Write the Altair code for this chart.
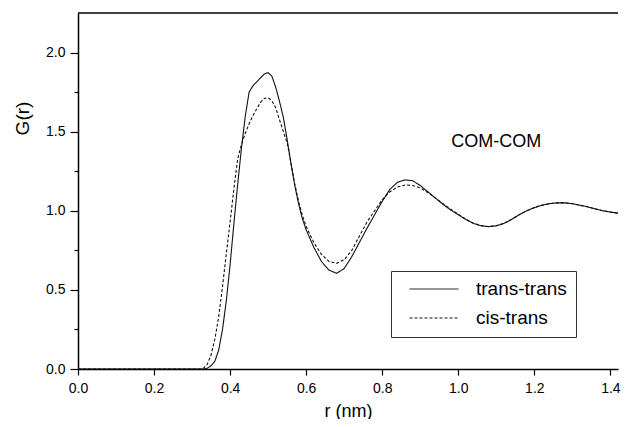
import altair as alt
import pandas as pd

FONT = "Liberation Sans"

# ---- data ----
r_trans = [0.00, 0.33, 0.34, 0.35, 0.36, 0.37, 0.38, 0.39, 0.40, 0.41, 0.42, 0.43, 0.44, 0.45,
           0.46, 0.47, 0.48, 0.49, 0.50, 0.51, 0.52, 0.53, 0.54, 0.55, 0.56, 0.57, 0.58, 0.59,
           0.60, 0.62, 0.64, 0.66, 0.68, 0.70, 0.72, 0.74, 0.76, 0.78, 0.80, 0.82, 0.84, 0.86,
           0.88, 0.90, 0.92, 0.94, 0.96, 0.98, 1.00, 1.02, 1.04, 1.06, 1.08, 1.10, 1.12, 1.14,
           1.16, 1.18, 1.20, 1.22, 1.24, 1.26, 1.28, 1.30, 1.32, 1.34, 1.36, 1.38, 1.40, 1.42, 1.44]
g_trans = [0.0, 0.0, 0.005, 0.02, 0.05, 0.12, 0.25, 0.43, 0.66, 0.92, 1.17, 1.40, 1.60, 1.75,
           1.79, 1.815, 1.84, 1.865, 1.873, 1.85, 1.78, 1.69, 1.59, 1.45, 1.30, 1.16, 1.045, 0.95,
           0.88, 0.77, 0.68, 0.625, 0.605, 0.635, 0.71, 0.80, 0.89, 0.975, 1.06, 1.135, 1.18, 1.195,
           1.19, 1.16, 1.12, 1.08, 1.04, 1.005, 0.975, 0.945, 0.92, 0.905, 0.90, 0.905, 0.92, 0.945,
           0.975, 1.0, 1.02, 1.035, 1.045, 1.05, 1.05, 1.045, 1.035, 1.025, 1.012, 1.0, 0.992, 0.985, 0.978]

r_cis = [0.00, 0.32, 0.33, 0.34, 0.35, 0.36, 0.37, 0.38, 0.39, 0.40, 0.41, 0.42, 0.43, 0.44, 0.45,
         0.46, 0.47, 0.48, 0.49, 0.50, 0.51, 0.52, 0.53, 0.54, 0.55, 0.56, 0.57, 0.58, 0.59,
         0.60, 0.62, 0.64, 0.66, 0.68, 0.70, 0.72, 0.74, 0.76, 0.78, 0.80, 0.82, 0.84, 0.86,
         0.88, 0.90, 0.92, 0.94, 0.96, 0.98, 1.00, 1.02, 1.04, 1.06, 1.08, 1.10, 1.12, 1.14,
         1.16, 1.18, 1.20, 1.22, 1.24, 1.26, 1.28, 1.30, 1.32, 1.34, 1.36, 1.38, 1.40, 1.42, 1.44]
g_cis = [0.0, 0.0, 0.005, 0.03, 0.09, 0.19, 0.33, 0.52, 0.73, 0.93, 1.14, 1.33, 1.42, 1.49, 1.55,
         1.60, 1.645, 1.685, 1.71, 1.715, 1.695, 1.65, 1.575, 1.50, 1.43, 1.30, 1.17, 1.06, 0.97,
         0.90, 0.80, 0.725, 0.68, 0.668, 0.69, 0.75, 0.84, 0.93, 1.00, 1.07, 1.12, 1.15, 1.163,
         1.16, 1.145, 1.115, 1.08, 1.045, 1.01, 0.978, 0.946, 0.921, 0.906, 0.90, 0.905, 0.92, 0.945,
         0.975, 1.0, 1.02, 1.035, 1.045, 1.05, 1.05, 1.045, 1.035, 1.025, 1.012, 1.0, 0.992, 0.985, 0.978]

series_names = ["trans-trans", "cis-trans"]
x_ticks = [0.0, 0.1, 0.2, 0.3, 0.4, 0.5, 0.6, 0.7, 0.8, 0.9, 1.0, 1.1, 1.2, 1.3, 1.4]
y_ticks = [0.0, 0.25, 0.5, 0.75, 1.0, 1.25, 1.5, 1.75, 2.0]
note_r = [1.10]
note_g = [1.435]
note_text = ["COM-COM"]

df = pd.concat([
    pd.DataFrame({"r": r_trans, "G": g_trans, "series": series_names[0]}),
    pd.DataFrame({"r": r_cis, "G": g_cis, "series": series_names[1]}),
])
notes = pd.DataFrame({"r": note_r, "G": note_g, "text": note_text})

x_axis = alt.Axis(
    values=x_ticks, title="r (nm)",
    labelExpr="round(datum.value*10) % 2 == 0 ? format(datum.value, '.1f') : ''",
    tickSize={"condition": {"test": "round(datum.value*10) % 2 == 0", "value": 6}, "value": 4},
    labelFlush=False, labelOverlap=False, labelPadding=6, titlePadding=7,
    labelFontSize=14, titleFontSize=18,
)
y_axis = alt.Axis(
    values=y_ticks, title="G(r)",
    labelExpr="round(datum.value*4) % 2 == 0 ? format(datum.value, '.1f') : ''",
    tickSize={"condition": {"test": "round(datum.value*4) % 2 == 0", "value": 8}, "value": 4},
    labelOverlap=False, labelPadding=5, labelFontSize=14, titleFontSize=19,
    titleX=-46, titleY=105,
)

lines = alt.Chart(df).mark_line(color="#111111", strokeWidth=1.1, clip=True).encode(
    x=alt.X("r:Q", scale=alt.Scale(domain=[0, 1.42], nice=False, zero=False), axis=x_axis),
    y=alt.Y("G:Q", scale=alt.Scale(domain=[0, 2.25], nice=False), axis=y_axis),
    strokeDash=alt.StrokeDash(
        "series:N",
        scale=alt.Scale(domain=series_names, range=[[1, 0], [3, 2]]),
        legend=alt.Legend(
            title=None, orient="none", legendX=313, legendY=258, direction="vertical",
            symbolType="stroke", symbolSize=2401, symbolStrokeWidth=1, symbolStrokeColor="#111111",
            clipHeight=18, rowPadding=10, padding=9, symbolOffset=9, labelOffset=17,
            labelFontSize=19, labelFont=FONT, labelColor="black",
            strokeColor="#333333", fillColor="white",
            labelExpr="datum.label + '   '",
        ),
    ),
)

note = alt.Chart(notes).mark_text(font=FONT, fontSize=18, color="black").encode(
    x="r:Q", y="G:Q", text="text:N"
)

top = alt.Chart(pd.DataFrame({"k": [0]})).mark_rule(color="black", strokeWidth=1.5).encode(
    y=alt.value(0)
)

chart = alt.layer(lines, note, top).properties(
    width=540, height=356,
    autosize=alt.AutoSizeParams(type="none"),
    padding={"left": 70, "top": 5, "right": 3, "bottom": 50},
).configure_view(stroke=None).configure_axis(
    grid=False, domainColor="black", domainWidth=1.5, tickColor="black", tickWidth=1.2,
    labelColor="black", titleColor="black", labelFont=FONT, titleFont=FONT,
    titleFontWeight="normal",
)

chart.save("out.html", embed_options={"renderer": "svg", "actions": False})
